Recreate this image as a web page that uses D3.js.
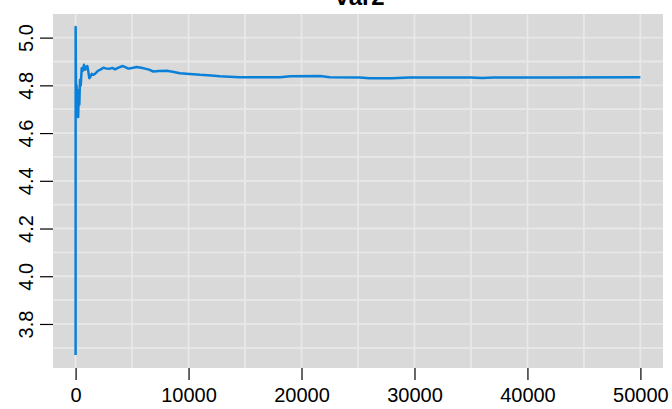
<!DOCTYPE html>
<html><head><meta charset="utf-8">
<script src="https://cdn.jsdelivr.net/npm/d3@7"></script>
<style>
html,body{margin:0;padding:0;background:#fff;}
svg{display:block;font-family:"Liberation Sans",Arial,Helvetica,sans-serif;}
</style></head>
<body><svg id="c" width="672" height="409"></svg>
<script>
const title = "var2";
const iterations = [1, 5, 40, 90, 150, 230, 280, 330, 390, 460, 540, 620, 744, 840, 920, 1036, 1120, 1213, 1300, 1425, 1560, 1717, 1850, 2010, 2200, 2452, 2700, 3045, 3250, 3488, 3800, 4170, 4400, 4665, 5000, 5409, 5800, 6144, 6500, 6879, 7400, 8065, 8600, 9242, 10100, 11013, 12000, 12780, 13600, 14550, 16000, 18100, 19000, 21640, 22500, 25180, 26000, 28000, 29500, 35000, 36000, 37000, 42000, 50000];
const runningMean = [3.67, 5.044, 4.72, 4.80, 4.68, 4.667, 4.78, 4.72, 4.823, 4.80, 4.872, 4.86, 4.886, 4.865, 4.873, 4.881, 4.86, 4.830, 4.835, 4.848, 4.844, 4.848, 4.855, 4.862, 4.866, 4.874, 4.871, 4.870, 4.873, 4.867, 4.874, 4.881, 4.876, 4.870, 4.873, 4.877, 4.874, 4.870, 4.866, 4.858, 4.860, 4.861, 4.857, 4.851, 4.848, 4.844, 4.841, 4.838, 4.836, 4.834, 4.834, 4.834, 4.838, 4.839, 4.834, 4.833, 4.830, 4.830, 4.833, 4.833, 4.831, 4.833, 4.833, 4.834];
const xTicks = [0, 10000, 20000, 30000, 40000, 50000];
const xMinor = [5000, 15000, 25000, 35000, 45000];
const yTicks = [3.8, 4.0, 4.2, 4.4, 4.6, 4.8, 5.0];
const yMinor = [3.7, 3.9, 4.1, 4.3, 4.5, 4.7, 4.9];

const L = 53, R = 663, T = 14, B = 368;
const svg = d3.select("#c");
const x = d3.scaleLinear().domain([-2000, 52000]).range([L, R]);
const y = d3.scaleLinear().domain([3.6155, 5.099]).range([B, T]);

svg.append("rect").attr("x", L).attr("y", T).attr("width", R - L).attr("height", B - T).attr("fill", "#d9d9d9");

const grid = svg.append("g").attr("stroke", "#e8e8e8").attr("stroke-width", 1.8);
grid.selectAll("line.v").data(xTicks.concat(xMinor)).join("line")
  .attr("x1", d => x(d)).attr("x2", d => x(d)).attr("y1", T).attr("y2", B);
grid.selectAll("line.h").data(yTicks.concat(yMinor)).join("line")
  .attr("y1", d => y(d)).attr("y2", d => y(d)).attr("x1", L).attr("x2", R);

const data = iterations.map((d, i) => [d, runningMean[i]]);
svg.append("path").datum(data)
  .attr("fill", "none").attr("stroke", "#0a80d8").attr("stroke-width", 2.5)
  .attr("stroke-linejoin", "round")
  .attr("d", d3.line().x(d => x(d[0])).y(d => y(d[1])));

const xa = svg.append("g").attr("transform", `translate(0,${B})`)
  .call(d3.axisBottom(x).tickValues(xTicks).tickSize(12).tickPadding(8).tickFormat(d3.format("d")));
xa.select(".domain").remove();
xa.selectAll("line").attr("stroke", "#000").attr("stroke-width", 1.2);
xa.selectAll("text").attr("font-size", 20).attr("fill", "#000").attr("font-family", "Liberation Sans, Arial, sans-serif");

const ya = svg.append("g").attr("transform", `translate(${L},0)`)
  .call(d3.axisLeft(y).tickValues(yTicks).tickSize(13).tickFormat(d3.format(".1f")));
ya.select(".domain").remove();
ya.selectAll("line").attr("stroke", "#000").attr("stroke-width", 1.2);
ya.selectAll("text").remove();
ya.selectAll(".tick").append("text")
  .attr("transform", "translate(-20,0) rotate(-90)")
  .attr("text-anchor", "middle").attr("dy", 0)
  .attr("font-size", 20).attr("fill", "#000").attr("font-family", "Liberation Sans, Arial, sans-serif")
  .text(d => d3.format(".1f")(d));

svg.append("text").attr("x", 360).attr("y", 5).attr("text-anchor", "middle")
  .attr("font-size", 24).attr("font-weight", "bold").attr("fill", "#000").text(title);
</script></body></html>
